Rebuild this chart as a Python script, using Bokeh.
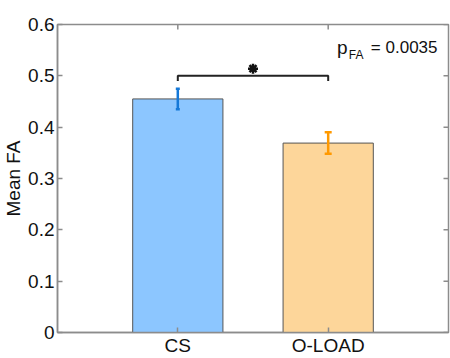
import math
from bokeh.plotting import figure
from bokeh.models import (Range1d, FixedTicker, ColumnDataSource,
                          Whisker, TeeHead, Label)
from bokeh.embed import file_html
from bokeh.resources import INLINE

# ---- data ----
categories = ["CS", "O-LOAD"]
cat_x = [1, 2]
mean_fa = [0.455, 0.369]
err_fa = [0.020, 0.021]
fill_colors = ["#8CC6FF", "#FDD69A"]
err_colors = ["#1478D8", "#FF9900"]
y_ticks = [0, 0.1, 0.2, 0.3, 0.4, 0.5, 0.6]
y_tick_labels = ["0", "0.1", "0.2", "0.3", "0.4", "0.5", "0.6"]
sig_y = 0.5
p_text = "0.0035"

FONT = "Liberation Sans"
AX = "#8c8c8c"
X0, X1 = 0.2, 2.8
Y0, Y1 = 0.0, 0.6

p = figure(width=450, height=358, output_backend="svg", toolbar_location=None,
           x_range=Range1d(X0, X1), y_range=Range1d(Y0, Y1),
           min_border_left=0, min_border_right=2, min_border_top=24,
           min_border_bottom=0)
p.grid.visible = False
p.outline_line_color = AX
p.outline_line_width = 1.5
p.background_fill_color = "white"

src = ColumnDataSource(dict(x=cat_x, top=mean_fa, fill=fill_colors,
                            lo=[m - e for m, e in zip(mean_fa, err_fa)],
                            hi=[m + e for m, e in zip(mean_fa, err_fa)]))
p.vbar(x="x", top="top", bottom=0, width=0.6, source=src, fill_color="fill",
       line_color="#555555", line_width=1)

for i in range(len(cat_x)):
    s = ColumnDataSource(dict(x=[cat_x[i]], lo=[src.data["lo"][i]], hi=[src.data["hi"][i]]))
    cap = 4 if i == 0 else 7
    w = Whisker(base="x", lower="lo", upper="hi", source=s, dimension="height",
                level="annotation",
                line_color=err_colors[i], line_width=2.5,
                upper_head=TeeHead(size=cap, line_color=err_colors[i], line_width=2.5),
                lower_head=TeeHead(size=cap, line_color=err_colors[i], line_width=2.5))
    p.add_layout(w)

# box ticks on right and top (inward)
p.ray(x=[X1] * len(y_ticks), y=y_ticks, length=5, length_units="screen",
      angle=math.pi, line_color=AX, line_width=1.5)
p.ray(x=cat_x, y=[Y1] * len(cat_x), length=5, length_units="screen",
      angle=-math.pi / 2, line_color=AX, line_width=1.5)

# significance bracket
p.line(x=[cat_x[0], cat_x[0], cat_x[1], cat_x[1]],
       y=[sig_y - 0.01, sig_y, sig_y, sig_y - 0.01], line_color="#222222", line_width=2)
p.scatter(x=[(cat_x[0] + cat_x[1]) / 2], y=[sig_y + 0.014], marker="asterisk",
          size=10, line_color="#111111", line_width=2.5)

# p-value text, anchored at top-right corner of the frame
p.add_layout(Label(x=X1, y=Y1, x_offset=-11, y_offset=-23, text="= " + p_text,
                   text_align="right", text_font=FONT, text_font_size="17px",
                   text_baseline="alphabetic", text_color="#111111"))
p.add_layout(Label(x=X1, y=Y1, x_offset=-85, y_offset=-30, text="FA",
                   text_align="right", text_font=FONT, text_font_size="12px",
                   text_baseline="alphabetic", text_color="#111111"))
p.add_layout(Label(x=X1, y=Y1, x_offset=-101, y_offset=-23, text="p",
                   text_align="right", text_font=FONT, text_font_size="19px",
                   text_baseline="alphabetic", text_color="#111111"))

# axes
def style(ax):
    ax.axis_line_color = AX
    ax.axis_line_width = 1.5
    ax.major_tick_line_color = AX
    ax.major_tick_line_width = 1.5
    ax.major_tick_in = 5
    ax.major_tick_out = 0
    ax.minor_tick_line_color = None
    ax.major_label_text_font = FONT
    ax.major_label_text_font_size = "19px"
    ax.major_label_text_color = "#111111"

xa = p.xaxis[0]
xa.ticker = FixedTicker(ticks=cat_x)
xa.major_label_overrides = {cat_x[i]: categories[i] for i in range(len(cat_x))}
xa.major_label_standoff = 2
style(xa)

ya = p.yaxis[0]
ya.ticker = FixedTicker(ticks=y_ticks)
ya.major_label_overrides = {y_ticks[i]: y_tick_labels[i] for i in range(len(y_ticks))}
ya.major_label_standoff = 3
ya.axis_label = "Mean FA"
ya.axis_label_text_font = FONT
ya.axis_label_text_font_size = "19px"
ya.axis_label_text_font_style = "normal"
ya.axis_label_text_color = "#111111"
ya.axis_label_standoff = 1
style(ya)

open("out.html", "w").write(file_html(p, INLINE))
